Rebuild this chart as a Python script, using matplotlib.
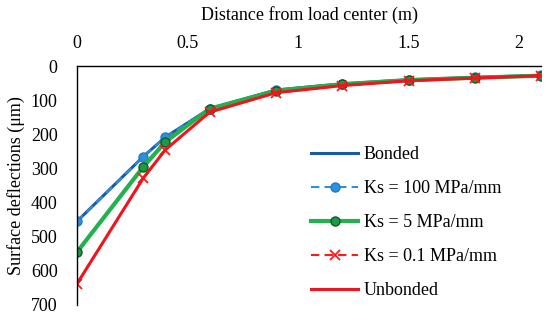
import matplotlib.pyplot as plt
import matplotlib as mpl

mpl.rcParams['font.family'] = ['Liberation Serif', 'DejaVu Serif']

dist = [0, 0.3, 0.4, 0.6, 0.9, 1.2, 1.5, 1.8, 2.1]
bonded = [455, 265, 208, 125, 70, 52, 40, 33, 27]
ks100 = [455, 265, 208, 125, 70, 52, 40, 33, 27]
ks5 = [545, 295, 222, 125, 72, 53, 41, 34, 28]
ks01 = [638, 328, 245, 135, 78, 57, 43, 35, 28]
unbonded = [638, 328, 245, 135, 78, 57, 43, 35, 28]

fig = plt.figure(figsize=(5.5, 3.21), dpi=100)
ax = fig.add_axes([0.14, 0.05, 0.844, 0.744])

ax.plot(dist, bonded, color='#1A5BA6', lw=2.2, label='Bonded')
ax.plot(dist, ks100, color='#2F8FDB', lw=1.5, ls=(0, (4, 2.5)), marker='o', ms=6.5,
        mfc='#2F8FDB', mec='#1F7CC4', label='Ks = 100 MPa/mm')
ax.plot(dist, ks5, color='#22B14C', lw=3, marker='o', ms=6.5,
        mfc='#1E9A45', mec='#0B5B25', label='Ks = 5 MPa/mm')
ax.plot(dist, ks01, color='#FF1A1A', lw=1.5, ls=(0, (4, 2.5)), marker='x', ms=7.5,
        mew=1.3, label='Ks = 0.1 MPa/mm')
ax.plot(dist, unbonded, color='#F0141E', lw=2.2, label='Unbonded')

ax.set_xlim(0, 2.1)
ax.set_ylim(700, 0)
ax.set_xticks([0, 0.5, 1, 1.5, 2])
ax.set_xticklabels(['0', '0.5', '1', '1.5', '2'])
ax.set_yticks(range(0, 701, 100))
ax.xaxis.tick_top()
ax.xaxis.set_label_position('top')
ax.tick_params(length=0, labelsize=13, pad=10)
ax.tick_params(axis='y', pad=14)
for s in ['right', 'bottom']:
    ax.spines[s].set_visible(False)
ax.spines['top'].set_linewidth(1)
ax.spines['left'].set_linewidth(1)

ax.set_xlabel('Distance from load center (m)', fontsize=13, labelpad=11)
ax.set_ylabel('Surface deflections (μm)', fontsize=13, labelpad=4)

ax.legend(loc='lower left', bbox_to_anchor=(0.47, -0.045), frameon=False,
          fontsize=13, handlelength=2.6, labelspacing=0.95, handletextpad=0.3)

fig.savefig('out.png', dpi=100)
